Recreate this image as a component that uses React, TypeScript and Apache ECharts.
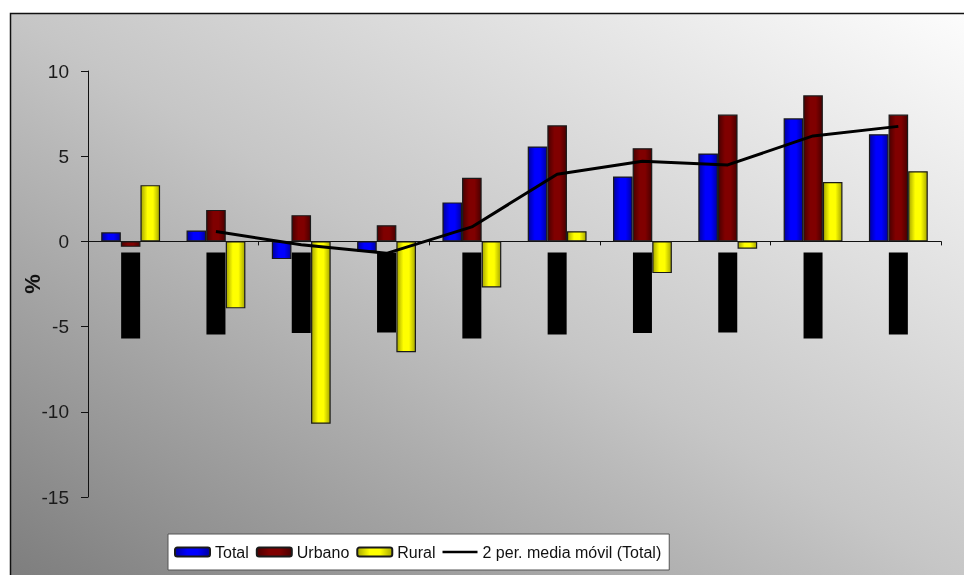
import React, { useEffect, useRef } from "react";
import * as echarts from "echarts";

// Quarterly periods (category axis)
const periods = [
  "Ene-Mar 2006",
  "Abr-Jun 2006",
  "Jul-Sep 2006",
  "Oct-Dic 2006",
  "Ene-Mar 2007",
  "Abr-Jun 2007",
  "Jul-Sep 2007",
  "Oct-Dic 2007",
  "Ene-Mar 2008",
  "Abr-Jun 2008",
];

// Variation, %
const total = [0.53, 0.64, -1.04, -0.59, 2.29, 5.57, 3.81, 5.16, 7.22, 6.29];
const urbano = [-0.32, 1.85, 1.54, 0.95, 3.73, 6.81, 5.47, 7.44, 8.57, 7.44];
const rural = [3.3, -3.93, -10.7, -6.5, -2.7, 0.6, -1.86, -0.43, 3.49, 4.12];
// 2-period moving average of Total
const mediaMovil = [null, 0.58, -0.2, -0.7, 0.85, 3.94, 4.7, 4.49, 6.19, 6.75];

const yTicks = { min: -15, max: 10, interval: 5 };

const FONT = "'Liberation Sans', Arial, sans-serif";

// plot area
const GRID = { left: 88, right: 23, top: 71, bottom: 78 };
const HEIGHT = 575;

function shaded(edge: string, mid: string) {
  return new echarts.graphic.LinearGradient(0, 0, 1, 0, [
    { offset: 0, color: edge },
    { offset: 0.35, color: mid },
    { offset: 0.65, color: mid },
    { offset: 1, color: edge },
  ]);
}

export default function App() {
  const ref = useRef<HTMLDivElement>(null);

  useEffect(() => {
    if (!ref.current) return;
    const chart = echarts.init(ref.current, undefined, { renderer: "svg" });

    const barStyle = (edge: string, mid: string) => ({
      color: shaded(edge, mid),
      borderColor: "#1a1a1a",
      borderWidth: 1.2,
    });

    // distance from the plot bottom up to the zero line, so the period
    // labels hang just under the zero axis
    const plotH = HEIGHT - GRID.top - GRID.bottom;
    const zeroFromBottom =
      (plotH * (0 - yTicks.min)) / (yTicks.max - yTicks.min);

    chart.setOption({
      animation: false,
      graphic: [
        {
          type: "rect",
          z: -10,
          silent: true,
          shape: { x: 10.5, y: 13.5, width: 965, height: 575 },
          style: {
            fill: new echarts.graphic.LinearGradient(1, 0, 0, 1, [
              { offset: 0, color: "#fdfdfd" },
              { offset: 0.5, color: "#c6c6c6" },
              { offset: 1, color: "#7c7c7c" },
            ]),
            stroke: "#111",
            lineWidth: 1.5,
          },
        },
      ],
      grid: GRID,
      legend: {
        left: 168,
        top: 534,
        padding: [10, 8, 10, 6],
        itemGap: 7,
        itemWidth: 35,
        itemHeight: 9,
        backgroundColor: "#ffffff",
        borderColor: "#555",
        borderWidth: 1,
        borderRadius: 0,
        textStyle: { fontFamily: FONT, fontSize: 16, color: "#111" },
        data: [
          "Total",
          "Urbano",
          "Rural",
          {
            name: "2 per. media móvil (Total)",
            icon: "path://M0,0 L0,0 M0,3.3 L35,3.3 L35,5.7 L0,5.7 Z M35,9 L35,9",
            itemStyle: { color: "#000", borderWidth: 0 },
          },
        ],
      },
      xAxis: [
        {
          type: "category",
          data: periods,
          axisLine: { onZero: true, lineStyle: { color: "#111", width: 1 } },
          axisTick: { show: true, length: 4, lineStyle: { color: "#111" } },
          axisLabel: { show: false },
          splitLine: { show: false },
        },
        {
          type: "category",
          data: periods,
          position: "bottom",
          offset: -zeroFromBottom,
          axisLine: { show: false, onZero: false },
          axisTick: { show: false },
          axisLabel: {
            interval: 0,
            rotate: 90,
            margin: 11,
            fontFamily: FONT,
            fontSize: 12,
            lineHeight: 13,
            color: "#000",
            backgroundColor: "#000",
            padding: [3, 5, 3, 5],
          },
          splitLine: { show: false },
        },
      ],
      yAxis: {
        type: "value",
        min: yTicks.min,
        max: yTicks.max,
        interval: yTicks.interval,
        name: "%",
        nameLocation: "middle",
        nameRotate: 90,
        nameGap: 45,
        nameMoveOverlap: false,
        nameTextStyle: {
          fontFamily: FONT,
          fontSize: 22,
          fontWeight: "bold",
          color: "#111",
        },
        axisLine: { show: true, lineStyle: { color: "#111", width: 1 } },
        axisTick: { show: true, length: 7, lineStyle: { color: "#111" } },
        axisLabel: {
          margin: 19,
          fontFamily: FONT,
          fontSize: 19,
          color: "#1a1a1a",
        },
        splitLine: { show: false },
      },
      series: [
        {
          name: "Total",
          type: "bar",
          data: total,
          barGap: "0%",
          barCategoryGap: "31%",
          itemStyle: barStyle("#0000a0", "#0000ff"),
        },
        {
          name: "Urbano",
          type: "bar",
          data: urbano,
          barGap: "0%",
          barCategoryGap: "31%",
          itemStyle: barStyle("#4a0000", "#800000"),
        },
        {
          name: "Rural",
          type: "bar",
          data: rural,
          barGap: "0%",
          barCategoryGap: "31%",
          itemStyle: barStyle("#a8a800", "#ffff00"),
        },
        {
          name: "2 per. media móvil (Total)",
          type: "line",
          data: mediaMovil,
          symbol: "none",
          z: 5,
          lineStyle: { color: "#000", width: 3 },
          itemStyle: { color: "#000" },
        },
      ],
    });

    return () => chart.dispose();
  }, []);

  return (
    <div
      ref={ref}
      style={{ position: "fixed", left: 0, top: 0, width: 964, height: HEIGHT }}
    />
  );
}
